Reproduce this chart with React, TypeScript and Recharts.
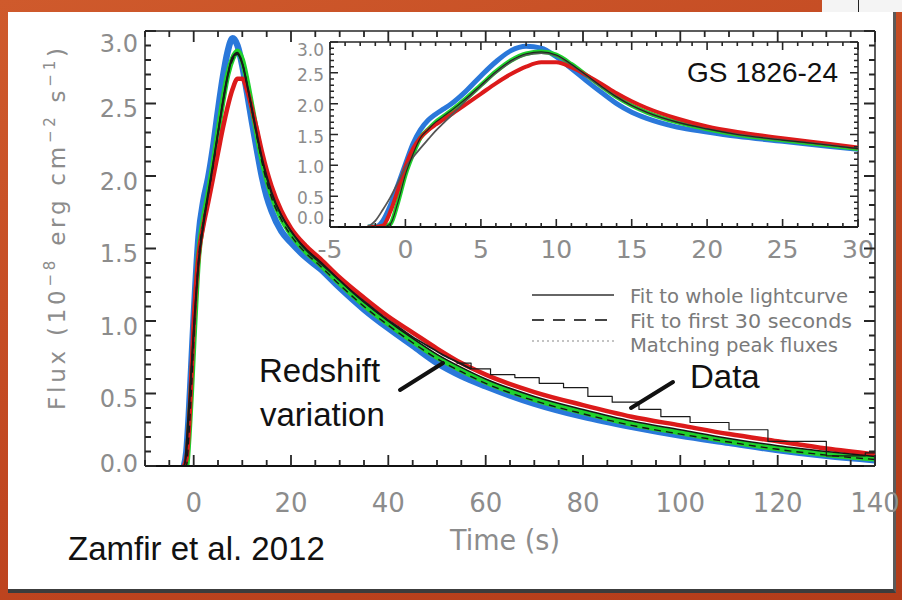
import React from 'react';
import { ComposedChart, Line, XAxis, YAxis, ReferenceLine } from 'recharts';

// main panel: burst light curve, time in s, flux in 1e-8 erg/cm2/s
const mainTime = [-2, -1.5, -1, -0.5, 0, 1, 2, 3, 4, 5, 6, 7, 8, 9, 10, 11, 12, 13, 14, 15, 16, 18, 20, 23, 26, 30, 35, 40, 45, 50, 55, 60, 70, 80, 90, 100, 110, 120, 130, 140];
const mainBlue = [0, 0.1, 0.35, 0.68, 1.02, 1.58, 1.83, 1.99, 2.2, 2.45, 2.68, 2.86, 2.95, 2.9, 2.76, 2.57, 2.37, 2.18, 2.0, 1.86, 1.76, 1.62, 1.54, 1.44, 1.36, 1.23, 1.08, 0.95, 0.83, 0.71, 0.62, 0.55, 0.43, 0.34, 0.27, 0.21, 0.16, 0.11, 0.07, 0.04];
const mainGreen = [0, 0, 0.2, 0.5, 0.85, 1.45, 1.7, 1.88, 2.08, 2.3, 2.52, 2.7, 2.81, 2.86, 2.8, 2.65, 2.47, 2.29, 2.12, 1.98, 1.87, 1.71, 1.6, 1.48, 1.39, 1.26, 1.11, 0.98, 0.86, 0.75, 0.66, 0.58, 0.46, 0.37, 0.29, 0.23, 0.17, 0.12, 0.08, 0.05];
const mainRed = [0, 0.05, 0.25, 0.6, 0.98, 1.45, 1.66, 1.82, 1.99, 2.16, 2.33, 2.48, 2.6, 2.67, 2.67, 2.59, 2.46, 2.32, 2.17, 2.04, 1.93, 1.76, 1.64, 1.52, 1.43, 1.3, 1.16, 1.03, 0.92, 0.81, 0.71, 0.63, 0.51, 0.42, 0.34, 0.28, 0.22, 0.17, 0.12, 0.08];
const mainFit = [0, 0.08, 0.35, 0.65, 0.95, 1.4, 1.66, 1.87, 2.08, 2.3, 2.52, 2.7, 2.82, 2.84, 2.77, 2.62, 2.45, 2.28, 2.12, 1.99, 1.88, 1.73, 1.62, 1.5, 1.41, 1.28, 1.13, 1.0, 0.88, 0.77, 0.68, 0.6, 0.48, 0.39, 0.31, 0.25, 0.19, 0.14, 0.1, 0.065];
const mainFit30 = [0, 0, 0.2, 0.5, 0.85, 1.43, 1.69, 1.87, 2.07, 2.29, 2.51, 2.69, 2.8, 2.84, 2.78, 2.63, 2.45, 2.27, 2.1, 1.96, 1.85, 1.7, 1.59, 1.47, 1.38, 1.25, 1.1, 0.97, 0.85, 0.74, 0.65, 0.57, 0.45, 0.36, 0.28, 0.22, 0.165, 0.115, 0.075, 0.045];

// observed data: the bright part reads as a line inside the model band,
// the tail is binned (bin start times)
const dataTime = [-10, -2, -1, 0, 1, 2, 3, 4, 5, 6, 7, 8, 9, 10, 11, 12, 13, 14, 15, 16, 18, 20, 22, 24, 26, 28, 30, 33, 36, 39, 42, 45, 48, 51, 54, 57];
const dataFlux = [0, 0, 0.4, 0.92, 1.4, 1.68, 1.89, 2.09, 2.3, 2.5, 2.69, 2.82, 2.85, 2.78, 2.63, 2.46, 2.29, 2.13, 2.0, 1.89, 1.73, 1.62, 1.53, 1.46, 1.4, 1.34, 1.28, 1.19, 1.11, 1.03, 0.96, 0.89, 0.83, 0.77, 0.72, 0.67];
const binTime = [54, 57, 61, 66, 71, 76, 81, 86, 91.5, 96, 102, 110, 118, 130, 138, 140];
const binFlux = [0.71, 0.67, 0.63, 0.61, 0.57, 0.54, 0.48, 0.44, 0.39, 0.34, 0.3, 0.25, 0.17, 0.07, 0.09, 0.09];

// inset: first 30 s
const insetTime = [-2.5, -2, -1.5, -1, -0.5, 0, 0.5, 1, 1.5, 2, 2.5, 3, 4, 5, 6, 7, 8, 9, 10, 11, 12, 13, 14, 15, 16, 18, 20, 22, 25, 28, 30];
const insetBlue = [0, 0, 0.1, 0.35, 0.68, 1.02, 1.35, 1.58, 1.73, 1.83, 1.91, 1.99, 2.2, 2.45, 2.68, 2.86, 2.93, 2.9, 2.76, 2.57, 2.37, 2.18, 2.0, 1.86, 1.76, 1.62, 1.54, 1.47, 1.39, 1.31, 1.26];
const insetGreen = [0, 0, 0, 0.05, 0.4, 0.85, 1.18, 1.45, 1.58, 1.7, 1.79, 1.88, 2.08, 2.3, 2.52, 2.7, 2.81, 2.84, 2.79, 2.64, 2.46, 2.28, 2.11, 1.97, 1.86, 1.7, 1.59, 1.5, 1.41, 1.33, 1.27];
const insetRed = [0, 0, 0.02, 0.25, 0.6, 0.98, 1.27, 1.45, 1.57, 1.66, 1.74, 1.82, 1.99, 2.16, 2.33, 2.48, 2.6, 2.67, 2.67, 2.59, 2.46, 2.32, 2.17, 2.04, 1.93, 1.76, 1.63, 1.54, 1.44, 1.35, 1.29];
const insetData = [0, 0.1, 0.28, 0.48, 0.72, 0.97, 1.13, 1.28, 1.42, 1.56, 1.68, 1.8, 2.05, 2.28, 2.5, 2.68, 2.79, 2.82, 2.78, 2.63, 2.45, 2.27, 2.11, 1.97, 1.86, 1.7, 1.59, 1.5, 1.41, 1.33, 1.27];

const mainXTicks = [0, 20, 40, 60, 80, 100, 120, 140];
const fluxTicks = [0, 0.5, 1, 1.5, 2, 2.5, 3];
const insetXTicks = [-5, 0, 5, 10, 15, 20, 25, 30];

const steps = (from: number, to: number, step: number) => {
  const out: number[] = [];
  for (let v = from; v <= to + 1e-9; v += step) out.push(Math.round(v * 100) / 100);
  return out;
};

type Pt = { x: number; y: number };
const pts = (xs: number[], ys: number[]): Pt[] => xs.map((x, i) => ({ x, y: ys[i] }));

const W = 902;
const H = 600;
const BLUE = '#2a78da';
const GREEN = '#1fd22c';
const RED = '#dc1a1a';
const GRAY = '#8c8c8c';
const FRAME = '#262626';
const TICK_FONT = '"DejaVu Sans", sans-serif';
const SLIDE_FONT = '"Liberation Sans", Arial, sans-serif';

type Panel = {
  left: number; top: number; width: number; height: number;
  xDomain: [number, number]; yDomain: [number, number];
  xMajor: number[]; xMinor: number[]; yMajor: number[]; yMinor: number[];
  big: number; small: number;
  xFont: number; yFont: number; xGap: number; yGap: number;
  yShift: (v: number) => number;
};

const MAIN: Panel = {
  left: 145, top: 31, width: 730, height: 435,
  xDomain: [-10, 140], yDomain: [0, 3],
  xMajor: mainXTicks, xMinor: steps(-10, 140, 5), yMajor: fluxTicks, yMinor: steps(0, 3, 0.1),
  big: 11, small: 6, xFont: 26, yFont: 24, xGap: 27, yGap: 7,
  yShift: (v) => (v === 3 ? 12 : v === 0 ? -3 : 5),
};

const INSET: Panel = {
  left: 330, top: 42, width: 528, height: 185,
  xDomain: [-5, 30], yDomain: [0, 3],
  xMajor: insetXTicks, xMinor: steps(-5, 30, 1), yMajor: fluxTicks, yMinor: steps(0, 3, 0.1),
  big: 8, small: 4, xFont: 25, yFont: 17, xGap: 13, yGap: 6,
  yShift: (v) => (v === 3 ? 8 : v === 0 ? -9 : 2),
};

const margin = (p: Panel) => ({ top: p.top, left: p.left, right: W - p.left - p.width, bottom: H - p.top - p.height });

// labelled bottom/left axes plus top/right frame lines
function axes(p: Panel) {
  const [x0, x1] = p.xDomain;
  const [y0, y1] = p.yDomain;
  const xLabel = (t: any) => (
    <text x={t.x} y={t.y + p.xGap} dy="0.72em" textAnchor="middle" fontSize={p.xFont} fill={GRAY} fontFamily={TICK_FONT}>
      {t.payload.value}
    </text>
  );
  const yLabel = (t: any) => (
    <text x={t.x - p.yGap} y={t.y + p.yShift(t.payload.value)} dy="0.36em" textAnchor="end" fontSize={p.yFont} fill={GRAY} fontFamily={TICK_FONT}>
      {Number(t.payload.value).toFixed(1)}
    </text>
  );
  return [
    <XAxis key="xb" xAxisId="b" dataKey="x" type="number" domain={p.xDomain} ticks={p.xMajor} allowDataOverflow interval={0}
      height={0.01} tickSize={0} tickMargin={0} tickLine={false} tick={xLabel} axisLine={{ stroke: '#111', strokeWidth: 2 }} />,
    <YAxis key="yl" yAxisId="l" type="number" domain={p.yDomain} ticks={p.yMajor} allowDataOverflow interval={0}
      width={0.01} tickSize={0} tickMargin={0} tickLine={false} tick={yLabel} axisLine={{ stroke: FRAME, strokeWidth: 1.5 }} />,
    <ReferenceLine key="ftop" xAxisId="b" yAxisId="l" segment={[{ x: x0, y: y1 }, { x: x1, y: y1 }]} stroke={FRAME} strokeWidth={1.5} />,
    <ReferenceLine key="fright" xAxisId="b" yAxisId="l" segment={[{ x: x1, y: y0 }, { x: x1, y: y1 }]} stroke={FRAME} strokeWidth={1.5} />,
  ];
}

// inward IDL-style ticks on all four sides of a panel, as one path
function tickPath(p: Panel) {
  const [x0, x1] = p.xDomain;
  const [y0, y1] = p.yDomain;
  const sx = (v: number) => p.left + ((v - x0) / (x1 - x0)) * p.width;
  const sy = (v: number) => p.top + p.height - ((v - y0) / (y1 - y0)) * p.height;
  const bottom = p.top + p.height;
  const right = p.left + p.width;
  let d = '';
  p.xMinor.forEach((v) => {
    const len = p.xMajor.includes(v) ? p.big : p.small;
    const x = sx(v).toFixed(1);
    d += `M${x},${bottom}V${bottom - len}M${x},${p.top}V${p.top + len}`;
  });
  p.yMinor.forEach((v) => {
    const len = p.yMajor.includes(v) ? p.big : p.small;
    const y = sy(v).toFixed(1);
    d += `M${p.left},${y}H${p.left + len}M${right},${y}H${right - len}`;
  });
  return d;
}

const curve = (key: string, data: Pt[], color: string, width: number, extra: any = {}) => (
  <Line key={key} xAxisId="b" yAxisId="l" data={data} dataKey="y" type="monotone" stroke={color} strokeWidth={width}
    dot={false} activeDot={false} isAnimationActive={false} strokeLinejoin="round" {...extra} />
);

function MainChart() {
  return (
    <ComposedChart width={W} height={H} margin={margin(MAIN)}>
      {axes(MAIN)}
      {curve('blue', pts(mainTime, mainBlue), BLUE, 6.5)}
      {curve('green', pts(mainTime, mainGreen), GREEN, 5.5)}
      {curve('red', pts(mainTime, mainRed), RED, 4.5)}
      {curve('fit', pts(mainTime, mainFit), '#151515', 1.6)}
      {curve('fit30', pts(mainTime, mainFit30), '#151515', 1.4, { strokeDasharray: '7 5' })}
      {curve('data', pts(dataTime, dataFlux), '#1a1a1a', 1.8)}
      {curve('bins', pts(binTime, binFlux), '#1a1a1a', 1.2, { type: 'stepAfter' })}
    </ComposedChart>
  );
}

function InsetChart() {
  return (
    <ComposedChart width={W} height={H} margin={margin(INSET)}>
      {axes(INSET)}
      {curve('iblue', pts(insetTime, insetBlue), BLUE, 5)}
      {curve('igreen', pts(insetTime, insetGreen), GREEN, 4.5)}
      {curve('ired', pts(insetTime, insetRed), RED, 4)}
      {curve('idata', pts(insetTime, insetData), '#555', 1.8)}
      {curve('ifit', pts(insetTime, insetGreen), '#1d2a1d', 1.2)}
    </ComposedChart>
  );
}

function Annotations() {
  const legendText = { fontSize: 19, fill: '#7a7a7a', fontFamily: TICK_FONT };
  const big = { fontSize: 33, fill: '#111', fontFamily: SLIDE_FONT };
  return (
    <svg width={W} height={H} style={{ position: 'absolute', left: 0, top: 0, pointerEvents: 'none' }}>
      <path d={tickPath(MAIN)} stroke={FRAME} strokeWidth={1.8} fill="none" />
      <path d={tickPath(INSET)} stroke={FRAME} strokeWidth={1.6} fill="none" />

      <text transform="translate(65,229) rotate(-90)" textAnchor="middle" fontSize={23} fill={GRAY} fontFamily={TICK_FONT}
        textLength={362} lengthAdjust="spacing">
        Flux (10<tspan dy={-10} fontSize={15}>−8</tspan><tspan dy={10}> erg cm</tspan><tspan dy={-10} fontSize={15}>−2</tspan>
        <tspan dy={10}> s</tspan><tspan dy={-10} fontSize={15}>−1</tspan><tspan dy={10}>)</tspan>
      </text>
      <text x={505} y={550} textAnchor="middle" fontSize={28} fill={GRAY} fontFamily={TICK_FONT} textLength={110} lengthAdjust="spacingAndGlyphs">
        Time (s)
      </text>

      <line x1={532} y1={295} x2={614} y2={295} stroke="#666" strokeWidth={2} />
      <line x1={532} y1={320} x2={614} y2={320} stroke="#444" strokeWidth={2} strokeDasharray="12 9" />
      <line x1={532} y1={341} x2={614} y2={341} stroke="#888" strokeWidth={1.2} strokeDasharray="2 3" />
      <text x={630} y={303} {...legendText} textLength={218} lengthAdjust="spacingAndGlyphs">Fit to whole lightcurve</text>
      <text x={630} y={328} {...legendText} textLength={222} lengthAdjust="spacingAndGlyphs">Fit to first 30 seconds</text>
      <text x={630} y={352} {...legendText} textLength={208} lengthAdjust="spacingAndGlyphs">Matching peak fluxes</text>

      <text x={687} y={82} fontSize={28} fill="#111" fontFamily={SLIDE_FONT}>GS 1826-24</text>
      <text x={259} y={382} {...big}>Redshift</text>
      <text x={260} y={426} {...big}>variation</text>
      <text x={690} y={388} {...big}>Data</text>
      <text x={68} y={560} {...big}>Zamfir et al. 2012</text>

      <line x1={400} y1={390} x2={443} y2={363} stroke="#111" strokeWidth={4} strokeLinecap="round" />
      <line x1={631} y1={408} x2={673} y2={382} stroke="#111" strokeWidth={4} strokeLinecap="round" />
    </svg>
  );
}

export default function App() {
  return (
    <div style={{ position: 'absolute', left: 0, top: 0, width: W, height: H, overflow: 'hidden',
      background: 'linear-gradient(160deg, #cf5a2c 0%, #c04620 55%, #b23c1a 100%)' }}>
      <div style={{ position: 'absolute', left: 822, top: 0, width: 80, height: 12, background: '#f4f4f4' }} />
      <div style={{ position: 'absolute', left: 858, top: 0, width: 1, height: 12, background: '#222' }} />
      <div style={{ position: 'absolute', left: 8, top: 12, width: 885, height: 577, background: '#fff',
        borderBottom: '4px solid #3c3c3c', borderRight: '3px solid #5a5a5a' }} />
      <div style={{ position: 'absolute', left: 0, top: 0 }}>
        <MainChart />
      </div>
      <div style={{ position: 'absolute', left: 0, top: 0 }}>
        <InsetChart />
      </div>
      <Annotations />
    </div>
  );
}
